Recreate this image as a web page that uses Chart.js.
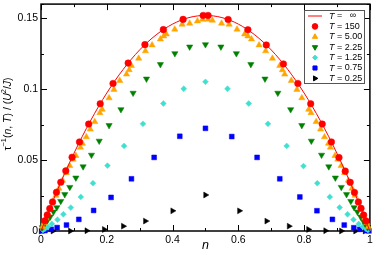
<!DOCTYPE html>
<html>
<head>
<meta charset="utf-8">
<script src="https://cdn.jsdelivr.net/npm/chart.js@4.4.0/dist/chart.umd.min.js"></script>
<style>
  html, body { margin:0; padding:0; background:#fff; }
  #c { display:block; }
</style>
</head>
<body>
<canvas id="c" width="374" height="253"></canvas>
<script>
// ---- Datos
const nLine = [0,0.05,0.1,0.15,0.2,0.25,0.3,0.35,0.4,0.45,0.5,0.55,0.6,0.65,0.7,0.75,0.8,0.85,0.9,0.95,1];
const vLine = [0,0.0289,0.0547,0.0775,0.0973,0.114,0.1277,0.1383,0.1459,0.1505,0.152,0.1505,0.1459,0.1383,0.1277,0.114,0.0973,0.0775,0.0547,0.0289,0];

const nT150 = [0.012,0.019,0.0267,0.035,0.0471,0.0602,0.0754,0.0945,0.117,0.145,0.18,0.219,0.265,0.316,0.372,0.432,0.493,0.508,0.569,0.629,0.685,0.737,0.781,0.82,0.855,0.883,0.906,0.925,0.94,0.953,0.965,0.973,0.981,0.988];
const vT150 = [0.0072,0.0113,0.0158,0.0205,0.0273,0.0344,0.0424,0.052,0.0628,0.0754,0.0897,0.104,0.1184,0.1314,0.142,0.1492,0.152,0.152,0.1491,0.1419,0.1312,0.1178,0.104,0.0897,0.0754,0.0628,0.0518,0.0422,0.0343,0.0272,0.0205,0.016,0.0112,0.0071];

const nT5 = [0.005,0.0095,0.015,0.021,0.0275,0.036,0.045,0.0545,0.0655,0.077,0.0875,0.0975,0.106,0.12,0.126,0.138,0.15,0.1635,0.179,0.186,0.207,0.222,0.2395,0.26,0.268,0.275,0.297,0.3176,0.3377,0.363,0.373,0.381,0.4067,0.429,0.452,0.4757,0.491,0.508,0.521,0.549,0.572,0.596,0.619,0.629,0.64,0.663,0.683,0.7036,0.726,0.734,0.741,0.761,0.778,0.793,0.814,0.821,0.8365,0.85,0.862,0.874,0.88,0.894,0.9025,0.9125,0.923,0.9345,0.9455,0.955,0.964,0.9725,0.979,0.985,0.9905,0.995];
const vT5 = [0.003,0.0058,0.009,0.0125,0.016,0.0205,0.025,0.03,0.0357,0.041,0.046,0.0505,0.0531,0.059,0.0617,0.0663,0.0717,0.077,0.0833,0.0857,0.0938,0.0997,0.106,0.1105,0.1136,0.1166,0.1217,0.1269,0.1311,0.1353,0.1374,0.1388,0.1422,0.1457,0.1464,0.148,0.1492,0.1492,0.1485,0.1464,0.1457,0.1422,0.1388,0.1374,0.1353,0.1311,0.1269,0.1217,0.1166,0.1136,0.1105,0.106,0.0997,0.0938,0.0857,0.0833,0.077,0.0717,0.0663,0.0617,0.059,0.0531,0.0505,0.046,0.041,0.0357,0.03,0.025,0.0205,0.016,0.0125,0.009,0.0058,0.003];

const nT225 = [0.004,0.009,0.014,0.02,0.028,0.038,0.048,0.06,0.0723,0.0875,0.106,0.128,0.1535,0.177,0.207,0.243,0.28,0.3207,0.363,0.407,0.452,0.5,0.547,0.594,0.638,0.681,0.72,0.759,0.793,0.822,0.853,0.875,0.895,0.913,0.929,0.942,0.952,0.962,0.972,0.98,0.987,0.993];
const vT225 = [0.0025,0.0045,0.0065,0.0075,0.01,0.0135,0.0166,0.021,0.0258,0.0309,0.0375,0.0454,0.0536,0.0635,0.0745,0.0857,0.0973,0.1073,0.1175,0.1252,0.1299,0.1315,0.1299,0.1252,0.1175,0.1073,0.0973,0.0857,0.0745,0.0635,0.0536,0.0454,0.0375,0.0309,0.0258,0.021,0.0166,0.0135,0.01,0.007,0.0045,0.0025];

const nT125 = [0.006,0.012,0.021,0.033,0.05,0.068,0.0906,0.121,0.158,0.202,0.2526,0.31,0.372,0.434,0.5,0.567,0.6316,0.69,0.747,0.798,0.84,0.878,0.908,0.932,0.95,0.966,0.978,0.988,0.994];
const vT125 = [0.0007,0.0015,0.003,0.005,0.008,0.0118,0.0165,0.024,0.0337,0.0461,0.06,0.0756,0.0899,0.1003,0.1052,0.1003,0.0899,0.0756,0.06,0.0458,0.0337,0.024,0.0166,0.0118,0.008,0.005,0.003,0.0015,0.0007];

const nT075 = [0.003,0.012,0.031,0.049,0.0775,0.115,0.16,0.213,0.275,0.344,0.422,0.5,0.58,0.657,0.726,0.787,0.839,0.886,0.922,0.951,0.969,0.988,0.997];
const vT075 = [0.0001,0.0003,0.0012,0.0024,0.0042,0.0082,0.0145,0.0237,0.0368,0.0519,0.0668,0.0724,0.0666,0.0519,0.0368,0.024,0.0143,0.0082,0.0042,0.0023,0.0012,0.0003,0.0001];

const nT025 = [0.0,0.036,0.089,0.139,0.192,0.25,0.317,0.4,0.5,0.603,0.686,0.754,0.813,0.865,0.913,0.956,0.985];
const vT025 = [0,0,0,0.0002,0.0011,0.0034,0.007,0.0142,0.0254,0.0142,0.007,0.0034,0.0011,0.0002,0,0,0];

const legendLabels = ['\u221E','150','5.00','2.25','1.25','0.75','0.25'];
const xTickLabels = ['0','0.2','0.4','0.6','0.8','1'];
const yTickLabels = ['0','0.05','0.1','0.15'];

// ---- Utilidades
const pts = (xs, ys) => xs.map((x, i) => ({ x, y: ys[i] }));
const FONT = '"Liberation Sans", Arial, sans-serif';
const near = (v, step) => Math.abs(v / step - Math.round(v / step)) < 1e-6;

function markerSet(label, xs, ys, color, style, radius, rotation){
    return {
        label, data: pts(xs, ys), showLine: false,
        pointStyle: style, pointRadius: radius, pointRotation: rotation || 0,
        pointBackgroundColor: color, pointBorderColor: color, pointBorderWidth: 0.5,
        pointHoverRadius: radius, clip: false
    };
}

// ---- Plugins: marco con ticks interiores, títulos, leyenda
const frame = {
    id: 'frame',
    beforeDatasetsDraw(chart){
        const { ctx, chartArea: a, scales: { x, y } } = chart;
        ctx.save();
        ctx.strokeStyle = '#000';
        ctx.lineWidth = 1;
        ctx.beginPath();
        x.ticks.forEach(t => {
            const px = Math.round(x.getPixelForValue(t.value)) + 0.5;
            const len = t.label ? 6 : 3;
            ctx.moveTo(px, a.bottom); ctx.lineTo(px, a.bottom - len);
            ctx.moveTo(px, a.top); ctx.lineTo(px, a.top + len);
        });
        y.ticks.forEach(t => {
            const py = Math.round(y.getPixelForValue(t.value)) + 0.5;
            const len = t.label ? 6 : 3;
            ctx.moveTo(a.left, py); ctx.lineTo(a.left + len, py);
            ctx.moveTo(a.right, py); ctx.lineTo(a.right - len, py);
        });
        ctx.stroke();
        ctx.lineWidth = 1.5;
        ctx.strokeRect(a.left, a.top, a.right - a.left, a.bottom - a.top);
        ctx.restore();
    }
};

function drawRich(ctx, segs, size){
    // segs: [texto, italic, sup]
    let w = 0;
    const parts = segs.map(([t, it, sup]) => {
        const f = (it ? 'italic ' : '') + (sup ? size * 0.7 : size) + 'px ' + FONT;
        ctx.font = f;
        const pw = ctx.measureText(t).width;
        const p = { t, f, sup, off: w };
        w += pw;
        return p;
    });
    let cx = -w / 2;
    parts.forEach(p => {
        ctx.font = p.f;
        ctx.fillText(p.t, cx + p.off, p.sup ? -size * 0.38 : 0);
    });
}

const titles = {
    id: 'titles',
    afterDraw(chart){
        const { ctx, chartArea: a } = chart;
        ctx.save();
        ctx.fillStyle = '#000';
        ctx.textBaseline = 'middle';
        ctx.textAlign = 'left';
        // eje x
        ctx.save();
        ctx.translate((a.left + a.right) / 2, 246);
        drawRich(ctx, [['n', true]], 12.5);
        ctx.restore();
        // eje y
        ctx.save();
        ctx.translate(8, 114);
        ctx.rotate(-Math.PI / 2);
        drawRich(ctx, [
            ['\u03C4'], ['\u22121', false, true], ['('], ['n', true], [', '], ['T', true],
            [') / ('], ['U', true], ['2', false, true], ['/'], ['J', true], [')']
        ], 10.5);
        ctx.restore();
        ctx.restore();
    }
};

const legendBox = {
    id: 'legendBox',
    afterDraw(chart){
        const { ctx } = chart;
        const x0 = 304.5, y0 = 10.5, w = 60, h = 73;
        ctx.save();
        ctx.fillStyle = '#fff';
        ctx.fillRect(x0, y0, w, h);
        ctx.strokeStyle = '#555';
        ctx.lineWidth = 1;
        ctx.strokeRect(x0, y0, w, h);
        chart.data.datasets.forEach((ds, i) => {
            const ry = 16 + i * 10.4;
            const mx = 315;
            if (ds.showLine) {
                ctx.strokeStyle = ds.borderColor;
                ctx.lineWidth = 1;
                ctx.beginPath();
                ctx.moveTo(308, ry); ctx.lineTo(322, ry);
                ctx.stroke();
            } else {
                ctx.fillStyle = ds.pointBackgroundColor;
                ctx.strokeStyle = ds.pointBorderColor;
                Chart.helpers.drawPoint(ctx, {
                    pointStyle: ds.pointStyle, rotation: ds.pointRotation,
                    radius: ds.pointRadius * 0.85, borderWidth: 0.5
                }, mx, ry);
            }
            ctx.fillStyle = '#000';
            ctx.textBaseline = 'middle';
            ctx.textAlign = 'left';
            ctx.font = 'italic 9px ' + FONT;
            ctx.fillText('T', 329, ry);
            const tw = ctx.measureText('T').width;
            ctx.font = '9px ' + FONT;
            ctx.fillText(' = ' + (i === 0 ? '  ' : '') + legendLabels[i], 329 + tw, ry);
        });
        ctx.restore();
    }
};

// ---- Chart
const datasets = [
    {
        label: 'T = \u221E', data: pts(nLine, vLine), showLine: true,
        borderColor: '#ff0000', borderWidth: 1, pointRadius: 0,
        cubicInterpolationMode: 'monotone', clip: false
    },
    markerSet('T = 150', nT150, vT150, '#ff0000', 'circle', 3.3),
    markerSet('T = 5.00', nT5, vT5, '#ffa500', 'triangle', 3.6),
    markerSet('T = 2.25', nT225, vT225, '#008000', 'triangle', 3.6, 180),
    markerSet('T = 1.25', nT125, vT125, '#40e0d0', 'rectRot', 2.9),
    markerSet('T = 0.75', nT075, vT075, '#0000ff', 'rect', 3.4),
    markerSet('T = 0.25', nT025, vT025, '#000000', 'triangle', 3.4, 90)
];

new Chart(document.getElementById('c'), {
    type: 'scatter',
    data: { datasets },
    options: {
        responsive: false,
        animation: false,
        devicePixelRatio: 1,
        layout: { padding: { top: 2, right: 3.5, left: 0, bottom: 0 } },
        plugins: { legend: { display: false }, tooltip: { enabled: false } },
        scales: {
            x: {
                type: 'linear', min: 0, max: 1,
                afterFit: s => { s.height = 22; s.paddingLeft = 0; s.paddingRight = 0; },
                grid: { display: false, drawTicks: false },
                border: { display: false },
                ticks: {
                    stepSize: 0.1, autoSkip: false, maxRotation: 0, padding: 3,
                    color: '#000', font: { family: FONT, size: 10.5 },
                    callback: v => near(v, 0.2) ? xTickLabels[Math.round(v / 0.2)] : ''
                }
            },
            y: {
                type: 'linear', min: 0, max: 0.16,
                afterFit: s => { s.width = 41; s.paddingTop = 0; s.paddingBottom = 0; },
                grid: { display: false, drawTicks: false },
                border: { display: false },
                ticks: {
                    stepSize: 0.025, autoSkip: false, padding: 3,
                    color: '#000', font: { family: FONT, size: 10.5 },
                    callback: v => near(v, 0.05) ? yTickLabels[Math.round(v / 0.05)] : ''
                }
            }
        }
    },
    plugins: [frame, titles, legendBox]
});
</script>
</body>
</html>
